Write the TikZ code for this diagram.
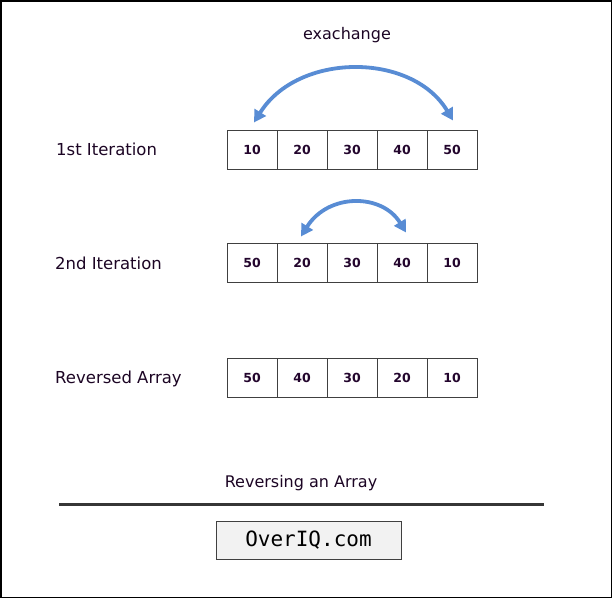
\documentclass[tikz,border=0pt]{standalone}
\usepackage{fontspec}
\setmainfont{DejaVu Sans}
\setmonofont{DejaVu Sans Mono}
\usetikzlibrary{arrows.meta}
\definecolor{txtc}{RGB}{28,5,36}
\definecolor{numc}{RGB}{35,5,45}
\definecolor{cellc}{RGB}{64,64,64}
\definecolor{arrc}{RGB}{88,140,212}
\definecolor{boxfill}{RGB}{242,242,242}
\begin{document}
\begin{tikzpicture}[x=1pt,y=-1pt,
  cellbox/.style={draw=cellc,line width=1pt,minimum width=50pt,minimum height=39pt,inner sep=0pt,
    font=\fontsize{12.5}{14}\selectfont\bfseries,text=numc},
  rowlabel/.style={anchor=west,inner sep=0pt,font=\fontsize{16.5}{19}\selectfont,text=txtc},
  swaparrow/.style={draw=arrc,line width=3.8pt,{Triangle[length=12pt,width=13pt]}-{Triangle[length=12pt,width=13pt]}}
]
\useasboundingbox (0,0) rectangle (612,598);
\draw[line width=1.5pt] (0.75,0.75) rectangle (611.25,597.25);

\node[font=\fontsize{16}{19}\selectfont,text=txtc] (exch) at (347,35) {exachange};

% row 1
\node[rowlabel] (l1) at (56,149) {1st Iteration};
\foreach \v [count=\i] in {10,20,30,40,50}
  \node[cellbox] (a\i) at (202+50*\i,149.5) {\v};
% row 2
\node[rowlabel] (l2) at (55,263) {2nd Iteration};
\foreach \v [count=\i] in {50,20,30,40,10}
  \node[cellbox] (b\i) at (202+50*\i,262.5) {\v};
% row 3
\node[rowlabel] (l3) at (55,379) {Reversed Array};
\foreach \v [count=\i] in {50,40,30,20,10}
  \node[cellbox] (c\i) at (202+50*\i,377.5) {\v};

% arrows
\coordinate (s1) at ([shift={(2,-7)}]a1.north);
\coordinate (e1) at ([shift={(1,-9)}]a5.north);
\draw[swaparrow] (s1) .. controls (298,52) and (412,52) .. (e1);
\coordinate (s2) at ([shift={(-1,-6)}]b2.north);
\coordinate (e2) at ([shift={(4,-10)}]b4.north);
\draw[swaparrow] (s2) .. controls (328,193) and (382,193) .. (e2);

% caption
\node[font=\fontsize{16}{19}\selectfont,text=txtc] (cap) at (301,483) {Reversing an Array};
\coordinate (rl) at (59,504);
\coordinate (rr) at (544,504);
\draw[line width=3pt,draw=cellc!85!black] (rl) -- (rr);
\node[draw=cellc,line width=1pt,fill=boxfill,minimum width=185pt,minimum height=38pt,inner sep=0pt,
  font=\fontsize{21}{24}\selectfont\ttfamily,text=black] (brand) at (308.5,540) {OverIQ.com};
\end{tikzpicture}
\end{document}
